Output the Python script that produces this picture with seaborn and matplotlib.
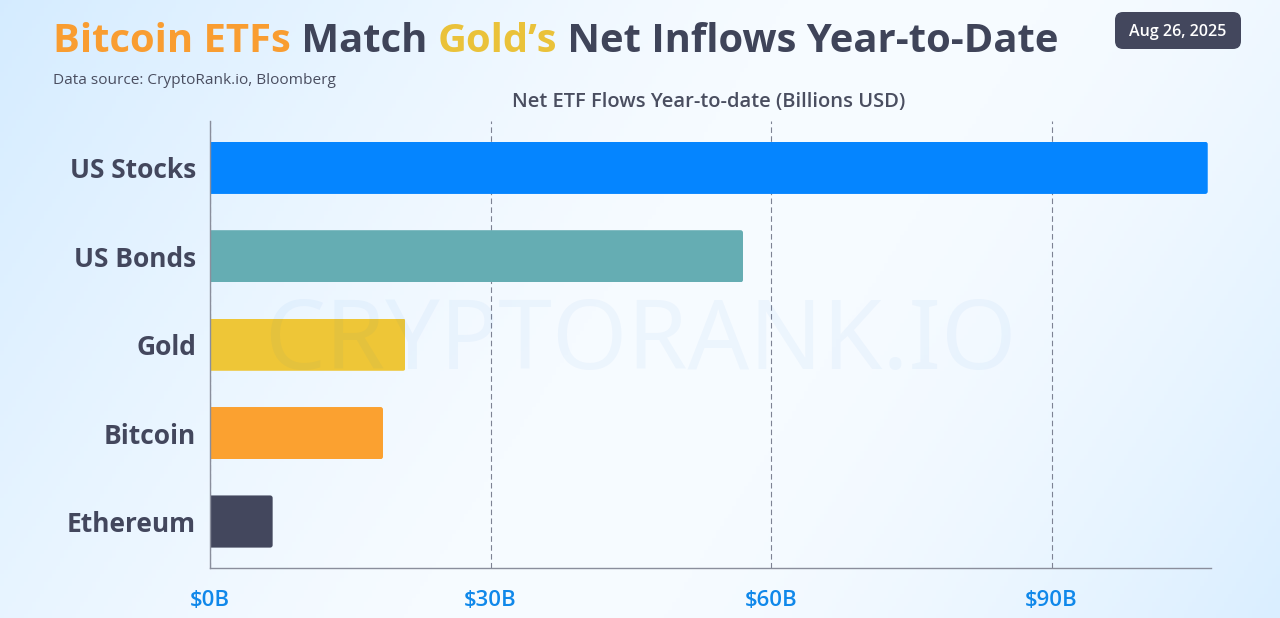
import numpy as np
import matplotlib.pyplot as plt
from matplotlib.colors import LinearSegmentedColormap
from matplotlib.patches import FancyBboxPatch
from matplotlib.transforms import IdentityTransform
import pandas as pd
import seaborn as sns

categories = ['US Stocks', 'US Bonds', 'Gold', 'Bitcoin', 'Ethereum']
net_flows = [106.7, 57.0, 20.9, 18.5, 6.7]
bar_colors = ['#0585ff', '#65adb3', '#eec637', '#fba130', '#43475d']
tick_values = [0, 30, 60, 90]
tick_labels = ['$0B', '$30B', '$60B', '$90B']

title_parts = [('Bitcoin ETFs', '#f99d31'), (' Match ', '#3f4459'), ('Gold\u2019s', '#eac23a'),
               (' Net Inflows Year-to-Date', '#3f4459')]

W, H = 1280, 618
dark = '#43475d'

sns.set_theme(style='white')
plt.rcParams['font.family'] = ['Open Sans', 'DejaVu Sans']

fig = plt.figure(figsize=(W / 100, H / 100), dpi=100)

# background gradient, light blue in two corners
bg = fig.add_axes([0, 0, 1, 1], zorder=0)
bg.axis('off')
bg.set_xlim(0, 1)
bg.set_ylim(0, 1)
xx, yy = np.meshgrid(np.linspace(0, 1, 320), np.linspace(0, 1, 155))
d = (xx * 1.0 + yy * 0.3) / 1.3
shade = np.clip(1 - d / 0.48, 0, 1) ** 1.3 * 0.95 + np.clip((d - 0.62) / 0.38, 0, 1) ** 1.5 * 0.8
cmap = LinearSegmentedColormap.from_list('bg', ['#f6fbff', '#d3ebff'])
bg.imshow(shade, cmap=cmap, vmin=0, vmax=1, aspect='auto', extent=[0, 1, 0, 1], origin='upper')

x0, x1 = 210, 1211
y_top, y_bot = 121, 567.5
ax = fig.add_axes([x0 / W, 1 - y_bot / H, (x1 - x0) / W, (y_bot - y_top) / H], zorder=2)
ax.patch.set_alpha(0)

df = pd.DataFrame({'category': categories, 'flow': net_flows})
ax.xaxis.grid(True, ls=(0, (5, 3)), lw=0.8, color='#7d8293')
ax.set_axisbelow(True)
sns.barplot(data=df, x='flow', y='category', hue='category', palette=bar_colors, legend=False,
            width=0.59, ax=ax, saturation=1, linewidth=0)

ax.set_xlim(0, 107.05)
ax.set_ylim(4.52, -0.53)
ax.set_xlabel('')
ax.set_ylabel('')
ax.set_xticks(tick_values)
ax.set_xticklabels(tick_labels, fontsize=16, color='#1088ea', fontweight='semibold')
ax.tick_params(axis='x', length=0, pad=16)
ax.tick_params(axis='y', length=0, pad=10)
for lab in ax.get_yticklabels():
    lab.set_fontsize(19)
    lab.set_fontweight('bold')
    lab.set_color(dark)
sns.despine(ax=ax, top=True, right=True)
for side in ['left', 'bottom']:
    ax.spines[side].set_color('#8a8e9c')
    ax.spines[side].set_linewidth(1)

# slightly rounded bar corners on the right end only
for bar in ax.patches:
    ext = bar.get_window_extent()
    bar.set_clip_path(FancyBboxPatch((ext.x0 - 6, ext.y0), ext.width + 6, ext.height,
                                     boxstyle='round,pad=0,rounding_size=2.5',
                                     transform=IdentityTransform()))

# watermark sits over the bars, very faint
fig.text(640 / W, 1 - 343 / H, 'CRYPTORANK.IO', fontsize=69.5, fontweight='semibold', color='#0064dc',
         alpha=0.04, family='Noto Sans', ha='center', va='center', zorder=5)

fig.text(709 / W, 1 - 102 / H, 'Net ETF Flows Year-to-date (Billions USD)', fontsize=14.5, color='#4a4e60',
         ha='center', va='center', fontweight='semibold', zorder=3)
fig.text(53 / W, 1 - 80 / H, 'Data source: CryptoRank.io, Bloomberg', fontsize=11.05, color='#4a4e60',
         ha='left', va='center', zorder=3)

# title in coloured pieces
fig.canvas.draw()
rend = fig.canvas.get_renderer()
cursor = 53
for part, col in title_parts:
    t = fig.text(cursor / W, 1 - 51.5 / H, part, fontsize=28.85, fontweight='bold', color=col,
                 ha='left', va='baseline', zorder=3)
    cursor += t.get_window_extent(rend).width

# date badge
fig.add_artist(FancyBboxPatch((1115, H - 49), 126, 37, transform=IdentityTransform(),
                              boxstyle='round,pad=0,rounding_size=8', fc=dark, lw=0, zorder=3))
fig.text(1178 / W, 1 - 31.5 / H, 'Aug 26, 2025', fontsize=11.5, color='white', fontweight='semibold',
         ha='center', va='center', zorder=4)

fig.savefig('out.png', dpi=100)
